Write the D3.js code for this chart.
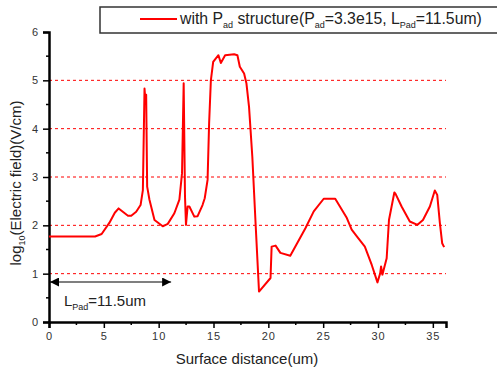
<!DOCTYPE html>
<html>
<head>
<meta charset="utf-8">
<script src="https://cdn.jsdelivr.net/npm/d3@7"></script>
<style>
  html, body { margin: 0; padding: 0; background: #fff; }
  svg { display: block; font-family: Arial, "Liberation Sans", sans-serif; }
</style>
</head>
<body>
<svg id="chart" width="497" height="372"></svg>
<script>
// Surface distance (um)
const distance = [
  0, 4.2, 4.8, 5.5, 6.0, 6.35, 7.2, 7.5, 7.95, 8.35, 8.56, 8.71, 8.78, 8.86, 8.95, 9.16, 9.62,
  10.37, 10.83, 11.43, 11.89, 12.13, 12.28, 12.4, 12.49, 12.64, 12.8, 13.25, 13.55, 14.0, 14.2,
  14.46, 14.6, 14.76, 14.97, 15.2, 15.45, 15.67, 16.06, 16.88, 17.18, 17.4, 17.79, 18.0, 18.24,
  18.54, 18.85, 19.15, 20.2, 20.3, 20.66, 21.1, 22.0, 23.38, 24.14, 25.05, 26.1, 27.16, 27.6,
  28.07, 28.8, 29.43, 29.95, 30.2, 30.28, 30.4, 30.79, 31.0, 31.24, 31.49, 31.6, 32.15, 32.9,
  33.6, 34.1, 34.73, 35.18, 35.4, 35.64, 35.85, 36.03
];
// log10(Electric field) (V/cm)
const logField = [
  1.77, 1.77, 1.82, 2.05, 2.26, 2.35, 2.2, 2.2, 2.28, 2.42, 2.73, 4.83, 4.6, 4.7, 2.8, 2.53, 2.11,
  1.98, 2.03, 2.25, 2.53, 3.08, 4.94, 2.6, 2.01, 2.39, 2.39, 2.18, 2.19, 2.42, 2.56,
  2.94, 4.11, 5.0, 5.38, 5.45, 5.52, 5.36, 5.52, 5.54, 5.52, 5.28, 5.14, 4.94, 4.45,
  3.42, 1.98, 0.63, 0.91, 1.56, 1.58, 1.43, 1.37, 1.94, 2.29, 2.55, 2.55, 2.15, 1.91,
  1.77, 1.56, 1.18, 0.82, 1.01, 1.15, 0.98, 1.32, 2.11, 2.39, 2.68, 2.65, 2.39, 2.08,
  2.01, 2.11, 2.39, 2.72, 2.63, 2.05, 1.63, 1.55
];
const xTicks = [0, 5, 10, 15, 20, 25, 30, 35];
const yTicks = [0, 1, 2, 3, 4, 5, 6];
const gridValues = [1, 2, 3, 4, 5];
const padLength = 11.5;

const svg = d3.select('#chart');
const x = d3.scaleLinear().domain([0, 36.2]).range([49, 446]);
const y = d3.scaleLinear().domain([0, 6]).range([322, 32]);
const points = distance.map((d, i) => ({ d, v: logField[i] }));

// dashed red grid
svg.append('g')
  .selectAll('line')
  .data(gridValues)
  .join('line')
  .attr('x1', x(0)).attr('x2', x.range()[1])
  .attr('y1', (d) => y(d)).attr('y2', (d) => y(d))
  .attr('stroke', '#ff0000')
  .attr('stroke-width', 1)
  .attr('stroke-dasharray', '3,3');

// minor ticks
svg.append('g')
  .selectAll('line')
  .data(d3.range(2.5, 36, 5))
  .join('line')
  .attr('x1', (d) => x(d)).attr('x2', (d) => x(d))
  .attr('y1', y(0)).attr('y2', y(0) + 3)
  .attr('stroke', '#000').attr('stroke-width', 1.5);
svg.append('g')
  .selectAll('line')
  .data(d3.range(0.5, 6, 1))
  .join('line')
  .attr('x1', x(0) - 3).attr('x2', x(0))
  .attr('y1', (d) => y(d)).attr('y2', (d) => y(d))
  .attr('stroke', '#000').attr('stroke-width', 1.5);

// axes
svg.append('g')
  .attr('transform', `translate(0,${y(0)})`)
  .call(d3.axisBottom(x).tickValues(xTicks).tickSize(6).tickPadding(4).tickFormat(d3.format('d')))
  .call((axis) => {
    axis.select('.domain').attr('stroke', '#000').attr('stroke-width', 2.5);
    axis.selectAll('.tick line').attr('stroke', '#000').attr('stroke-width', 1.5);
    axis.selectAll('.tick text').attr('fill', '#333').attr('font-size', '11px').attr('letter-spacing', '1px');
  });
svg.append('g')
  .attr('transform', `translate(${x(0)},0)`)
  .call(d3.axisLeft(y).tickValues(yTicks).tickSize(6).tickPadding(5).tickFormat(d3.format('d')))
  .call((axis) => {
    axis.select('.domain').attr('stroke', '#000').attr('stroke-width', 2.5);
    axis.selectAll('.tick line').attr('stroke', '#000').attr('stroke-width', 1.5);
    axis.selectAll('.tick text').attr('fill', '#333').attr('font-size', '11px');
  });

// data line
const line = d3.line().x((p) => x(p.d)).y((p) => y(p.v));
svg.append('path')
  .datum(points)
  .attr('fill', 'none')
  .attr('stroke', '#ff0000')
  .attr('stroke-width', 2)
  .attr('stroke-linejoin', 'round')
  .attr('d', line);

// axis titles
svg.append('text')
  .attr('x', 247).attr('y', 364)
  .attr('text-anchor', 'middle')
  .attr('font-size', '15px').attr('fill', '#222')
  .text('Surface distance(um)');

const yTitle = svg.append('text')
  .attr('transform', 'translate(21,183) rotate(-90)')
  .attr('text-anchor', 'middle')
  .attr('font-size', '15px').attr('fill', '#222');
yTitle.append('tspan').text('log');
yTitle.append('tspan').attr('font-size', '9px').attr('dy', 4).text('10');
yTitle.append('tspan').attr('dy', -4).text('(Electric field)(V/cm)');

// L_Pad arrow
svg.append('defs').append('marker')
  .attr('id', 'arrow')
  .attr('viewBox', '0 0 10 10')
  .attr('refX', 10).attr('refY', 5)
  .attr('markerWidth', 9).attr('markerHeight', 9)
  .attr('markerUnits', 'userSpaceOnUse')
  .attr('orient', 'auto-start-reverse')
  .append('path').attr('d', 'M0,0L10,5L0,10Z').attr('fill', '#000');
svg.append('line')
  .attr('x1', x(0) + 1).attr('x2', x(padLength) - 4)
  .attr('y1', 282).attr('y2', 282)
  .attr('stroke', '#000').attr('stroke-width', 1.2)
  .attr('marker-start', 'url(#arrow)')
  .attr('marker-end', 'url(#arrow)');
const padLabel = svg.append('text')
  .attr('x', 64).attr('y', 306)
  .attr('font-size', '15px').attr('fill', '#222');
padLabel.append('tspan').text('L');
padLabel.append('tspan').attr('font-size', '9px').attr('dy', 4).text('Pad');
padLabel.append('tspan').attr('dy', -4).text('=11.5um');

// legend
svg.append('rect')
  .attr('x', 100).attr('y', 7)
  .attr('width', 410).attr('height', 26)
  .attr('fill', '#fff')
  .attr('stroke', '#333').attr('stroke-width', 1.5);
svg.append('line')
  .attr('x1', 140).attr('x2', 177)
  .attr('y1', 19).attr('y2', 19)
  .attr('stroke', '#ff0000').attr('stroke-width', 2);
const legendText = svg.append('text')
  .attr('x', 180).attr('y', 24)
  .attr('font-size', '15.8px').attr('fill', '#222');
legendText.append('tspan').text('with P');
legendText.append('tspan').attr('font-size', '9px').attr('dy', 4).text('ad');
legendText.append('tspan').attr('dy', -4).text(' structure(P');
legendText.append('tspan').attr('font-size', '9px').attr('dy', 4).text('ad');
legendText.append('tspan').attr('dy', -4).text('=3.3e15, L');
legendText.append('tspan').attr('font-size', '9px').attr('dy', 4).text('Pad');
legendText.append('tspan').attr('dy', -4).text('=11.5um)');
</script>
</body>
</html>
